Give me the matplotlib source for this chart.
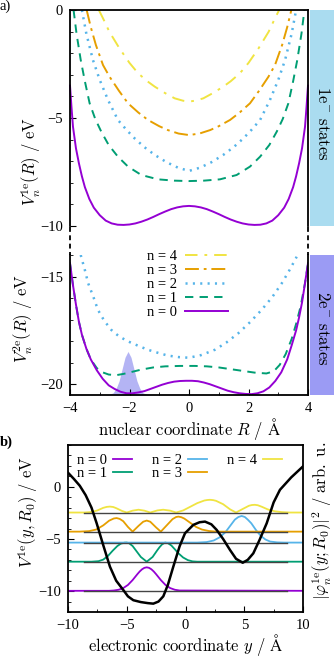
import matplotlib
matplotlib.use('Agg')
import matplotlib.pyplot as plt
from matplotlib.lines import Line2D
from matplotlib.patches import Rectangle
import numpy as np

plt.rcParams['font.family'] = ['Liberation Serif', 'DejaVu Serif']
plt.rcParams['mathtext.fontset'] = 'cm'
plt.rcParams['lines.scale_dashes'] = False
plt.rcParams['axes.linewidth'] = 1.3

W, H = 334, 659

# ---- panel a, one-electron states ----
R_1e = [-4.0, -3.95, -3.9, -3.8, -3.7, -3.6, -3.5, -3.35, -3.2, -3.0, -2.8, -2.6, -2.4,
        -2.2, -2.0, -1.8, -1.6, -1.4, -1.2, -1.0, -0.8, -0.6, -0.4, -0.2, 0.0,
        0.2, 0.4, 0.6, 0.8, 1.0, 1.2, 1.4, 1.6, 1.8, 2.0, 2.2, 2.4, 2.6, 2.8, 3.0,
        3.2, 3.35, 3.5, 3.6, 3.7, 3.8, 3.9, 3.95, 4.0]
V1e_n0 = [-3.5, -4.5, -5.4, -6.4, -7.1, -7.7, -8.2, -8.75, -9.15, -9.5, -9.75, -9.88, -9.94,
          -9.95, -9.93, -9.88, -9.8, -9.7, -9.58, -9.45, -9.33, -9.22, -9.14, -9.09, -9.07,
          -9.09, -9.14, -9.22, -9.33, -9.45, -9.58, -9.7, -9.8, -9.88, -9.93, -9.95, -9.94,
          -9.88, -9.75, -9.5, -9.15, -8.75, -8.2, -7.7, -7.1, -6.4, -5.4, -4.5, -3.5]

R_1e_n1 = [-3.88, -3.78, -3.64, -3.5, -3.34, -3.15, -2.95, -2.7, -2.39, -2.05, -1.6, -1.04,
           -0.5, 0.0, 0.5, 1.04, 1.6, 2.05, 2.39, 2.7, 2.95, 3.15, 3.34, 3.5, 3.64, 3.78, 3.88]
V1e_n1 = [0.0, -1.1, -2.31, -3.3, -4.32, -5.05, -5.63, -6.25, -6.79, -7.25, -7.64, -7.84,
          -7.9, -7.92, -7.9, -7.84, -7.64, -7.25, -6.79, -6.25, -5.63, -5.05, -4.32, -3.3,
          -2.31, -1.1, 0.0]

R_1e_n2 = [-3.6, -3.45, -3.23, -3.0, -2.72, -2.39, -2.1, -1.83, -1.5, -1.15, -0.75, -0.37, 0.0,
           0.37, 0.75, 1.15, 1.5, 1.83, 2.1, 2.39, 2.72, 3.0, 3.23, 3.45, 3.6]
V1e_n2 = [0.0, -1.1, -2.31, -3.24, -4.17, -5.09, -5.55, -5.94, -6.35, -6.71, -7.05, -7.3, -7.45,
          -7.3, -7.05, -6.71, -6.35, -5.94, -5.55, -5.09, -4.17, -3.24, -2.31, -1.1, 0.0]

R_1e_n3 = [-3.44, -3.3, -3.13, -2.89, -2.67, -2.35, -2.05, -1.7, -1.38, -1.0, -0.71, -0.35, 0.0,
           0.35, 0.71, 1.0, 1.38, 1.7, 2.05, 2.35, 2.67, 2.89, 3.13, 3.3, 3.44]
V1e_n3 = [0.0, -0.8, -1.62, -2.55, -3.09, -3.75, -4.32, -4.75, -5.09, -5.38, -5.56, -5.72, -5.79,
          -5.72, -5.56, -5.38, -5.09, -4.75, -4.32, -3.75, -3.09, -2.55, -1.62, -0.8, 0.0]

R_1e_n4 = [-3.03, -2.85, -2.68, -2.34, -2.0, -1.71, -1.4, -1.15, -0.8, -0.48, -0.2, 0.0,
           0.2, 0.48, 0.8, 1.15, 1.4, 1.71, 2.0, 2.34, 2.68, 2.85, 3.03]
V1e_n4 = [0.0, -0.5, -1.0, -1.77, -2.45, -2.93, -3.3, -3.55, -3.85, -4.09, -4.2, -4.24,
          -4.2, -4.09, -3.85, -3.55, -3.3, -2.93, -2.45, -1.77, -1.0, -0.5, 0.0]

# ---- panel a, two-electron states ----
R_2e = [-4.0, -3.9, -3.8, -3.7, -3.6, -3.45, -3.3, -3.1, -2.9, -2.7, -2.5, -2.3, -2.1, -1.9,
        -1.7, -1.5, -1.3, -1.1, -0.9, -0.7, -0.5, -0.3, -0.1, 0.1, 0.3, 0.5, 0.7, 0.9,
        1.1, 1.3, 1.5, 1.7, 1.9, 2.1, 2.3, 2.5, 2.7, 2.9, 3.1, 3.3, 3.45, 3.6, 3.7,
        3.8, 3.9, 4.0]
V2e_n0 = [-14.38, -15.4, -16.3, -17.1, -17.7, -18.35, -18.85, -19.35, -19.75, -20.05, -20.22,
          -20.35, -20.42, -20.42, -20.38, -20.32, -20.22, -20.12, -20.02, -19.94, -19.88,
          -19.85, -19.84, -19.84, -19.86, -19.92, -20.0, -20.1, -20.2, -20.3, -20.37, -20.42,
          -20.45, -20.46, -20.42, -20.33, -20.15, -19.85, -19.45, -18.85, -18.2, -17.5, -16.9,
          -16.2, -15.3, -14.38]

R_2e_n1 = [-4.0, -3.9, -3.8, -3.7, -3.6, -3.45, -3.3, -3.1, -2.9, -2.7, -2.45, -2.2, -1.9,
           -1.6, -1.2, -0.8, -0.3, 0.2, 0.6, 1.0, 1.4, 1.8, 2.2, 2.6, 2.85, 3.05, 3.25,
           3.45, 3.6, 3.75, 3.9, 4.0]
V2e_n1 = [-14.4, -15.4, -16.3, -17.1, -17.7, -18.35, -18.85, -19.25, -19.45, -19.55, -19.58,
          -19.52, -19.42, -19.32, -19.22, -19.17, -19.15, -19.15, -19.17, -19.22, -19.3,
          -19.38, -19.46, -19.5, -19.4, -19.1, -18.6, -17.9, -17.2, -16.4, -15.3, -14.4]

R_2e_n2 = [-3.64, -3.5, -3.39, -3.2, -3.06, -2.85, -2.61, -2.35, -2.05, -1.7, -1.38, -1.0,
           -0.71, -0.35, 0.0, 0.4, 0.87, 1.25, 1.66, 2.05, 2.44, 2.8, 3.12, 3.4, 3.62]
V2e_n2 = [-14.0, -14.7, -15.31, -16.0, -16.55, -17.05, -17.48, -17.78, -18.01, -18.22, -18.4,
          -18.56, -18.67, -18.74, -18.77, -18.65, -18.4, -18.07, -17.63, -17.12, -16.55,
          -15.95, -15.31, -14.65, -14.08]

# nuclear wave packet (shaded)
R_wp = [-2.9, -2.7, -2.55, -2.45, -2.35, -2.25, -2.15, -2.05, -1.95, -1.85,
        -1.75, -1.65, -1.55, -1.4, -1.2]
V_wp = [-20.5, -20.48, -20.4, -20.2, -19.85, -19.3, -18.75, -18.48, -18.75, -19.3,
        -19.85, -20.2, -20.4, -20.48, -20.5]

# ---- panel b ----
y_pot = [-10, -9.5, -9.0, -8.5, -8.0, -7.56, -7.0, -6.43, -5.9, -5.29, -4.9, -4.44,
         -3.8, -3.2, -2.74, -2.3, -1.89, -1.5, -1.04, -0.5, -0.04, 0.67, 1.2, 1.66,
         2.2, 2.65, 3.2, 3.79, 4.3, 4.87, 5.3, 5.77, 6.3, 6.91, 7.5, 8.04, 9.0, 10]
V_pot = [1.35, 0.75, 0.1, -0.8, -2.0, -3.5, -5.6, -7.66, -9.0, -9.9, -10.5, -10.87,
         -11.05, -11.15, -11.2, -11.0, -10.5, -9.4, -7.66, -5.7, -4.45, -3.65, -3.4, -3.34,
         -3.6, -4.13, -5.0, -6.06, -6.9, -7.28, -7.0, -6.38, -5.1, -3.5, -1.5, -0.29, 0.9, 1.95]

levels = [-9.97, -7.18, -5.35, -4.3, -2.47]

y_d0 = [-10, -6.5, -6.1, -5.7, -5.3, -4.9, -4.5, -4.3, -4.1, -3.9, -3.7, -3.5, -3.3,
        -3.1, -2.9, -2.7, -2.5, -2.3, -2.1, -1.7, -1.3, -0.9, -0.5, 10]
d0 = [0, 0, 0.03, 0.1, 0.26, 0.56, 1.03, 1.31, 1.59, 1.85, 2.06, 2.2, 2.25,
      2.2, 2.06, 1.85, 1.59, 1.31, 1.03, 0.56, 0.26, 0.1, 0.03, 0]

y_d1 = [-10, -8.0, -7.4, -7.0, -6.6, -6.2, -5.8, -5.5, -5.2, -5.0, -4.8, -4.5, -4.2, -3.8,
        -3.3, -2.8, -2.4, -2.2, -2.0, -1.74, -1.5, -1.2, -0.9, -0.6, -0.2, 0.2, 0.6, 1.0, 10]
d1 = [0, 0, 0.05, 0.2, 0.55, 1.05, 1.5, 1.73, 1.82, 1.83, 1.77, 1.5, 1.05, 0.45,
      0.0, 0.45, 1.1, 1.4, 1.65, 1.83, 1.78, 1.55, 1.18, 0.8, 0.4, 0.15, 0.03, 0, 0]

y_d2 = [-10, 1.0, 1.8, 2.4, 2.9, 3.4, 3.8, 4.2, 4.5, 4.78, 5.05, 5.3, 5.6, 6.0, 6.4, 6.8,
        7.2, 7.8, 8.4, 10]
d2 = [0, 0, 0.05, 0.2, 0.5, 1.0, 1.6, 2.2, 2.45, 2.55, 2.45, 2.2, 1.85, 1.2, 0.65, 0.3,
      0.1, 0.02, 0, 0]

y_d3 = [-10, -9.0, -8.2, -7.6, -7.0, -6.5, -6.1, -5.86, -5.6, -5.3, -4.9, -4.5, -4.0,
        -3.6, -3.3, -3.0, -2.5, -2.1, -1.6, -1.1, -0.8, -0.6, -0.35, -0.1, 0.4, 0.9,
        1.4, 2.0, 2.6, 10]
d3 = [0, 0, 0.05, 0.2, 0.6, 1.05, 1.26, 1.3, 1.22, 1.0, 0.45, 0.0, 0.55,
      0.95, 1.06, 0.95, 0.4, 0.0, 0.6, 1.2, 1.4, 1.44, 1.38, 1.25, 0.85, 0.45,
      0.2, 0.06, 0, 0]

y_d4 = [-10, -8.6, -8.0, -7.5, -7.0, -6.7, -6.43, -6.15, -5.9, -5.4, -5.0, -4.5, -4.0, -3.5,
        -3.0, -2.4, -1.9, -1.3, -0.8, -0.2, 0.4, 1.0, 1.6, 1.85, 2.08, 2.35, 2.6, 3.2, 3.8,
        4.3, 4.8, 5.4, 5.65, 5.9, 6.15, 6.5, 7.0, 7.6, 8.2, 8.9, 10]
d4 = [0, 0, 0.05, 0.2, 0.45, 0.54, 0.57, 0.53, 0.42, 0.15, 0, 0.18, 0.27, 0.18,
      0, 0.2, 0.27, 0.18, 0, 0.2, 0.55, 0.9, 1.15, 1.2, 1.22, 1.19, 1.12, 0.8, 0.3,
      0, 0.3, 0.65, 0.72, 0.74, 0.7, 0.55, 0.3, 0.12, 0.04, 0, 0]

labels = ['n = 0', 'n = 1', 'n = 2', 'n = 3', 'n = 4']
colors = ['#9400d3', '#009e73', '#56b4e9', '#e69f00', '#f0e442']
styles = ['-', (0, (6, 4.5)), (0, (1.5, 3.8)), (0, (10, 3.5, 2, 3.5)), (0, (9, 5, 2, 5))]


def fx(px):
    return px / W


def fy(py):
    return 1 - py / H


fig = plt.figure(figsize=(W / 100, H / 100), dpi=100)

ax1 = fig.add_axes([fx(70), fy(226), fx(238), 216 / H])
ax2 = fig.add_axes([fx(70), fy(395), fx(238), 140 / H])
ax3 = fig.add_axes([fx(68), fy(612), fx(235), 167 / H])

# top panel
ax1.plot(R_1e_n4, V1e_n4, color=colors[4], ls=styles[4], lw=1.4)
ax1.plot(R_1e_n3, V1e_n3, color=colors[3], ls=styles[3], lw=1.4)
ax1.plot(R_1e_n2, V1e_n2, color=colors[2], ls=styles[2], lw=1.8)
ax1.plot(R_1e_n1, V1e_n1, color=colors[1], ls=styles[1], lw=1.4)
ax1.plot(R_1e, V1e_n0, color=colors[0], ls=styles[0], lw=1.4, clip_on=False)
ax1.set_xlim(-4, 4)
ax1.set_ylim(-10, 0)
ax1.spines['bottom'].set_visible(False)
ax1.set_xticks([])
ax1.set_yticks([0, -5, -10])
ax1.set_yticks(np.arange(-10, 1, 1), minor=True)
ax1.tick_params(axis='y', which='both', direction='in', labelsize=10.5, pad=5)
ax1.tick_params(axis='y', which='major', length=4)
ax1.tick_params(axis='y', which='minor', length=2.5)
ax1.set_ylabel(r'$V_n^{\mathrm{1e}}(R)\ /\ \mathrm{eV}$', fontsize=12)
ax1.yaxis.set_label_coords(-0.115, 0.3)

# bottom panel (2e)
ax2.fill_between(R_wp, V_wp, -20.5, color='#b4b4f4', lw=0)
h2 = []
h2.append(ax2.plot([], [], color=colors[4], ls=styles[4], lw=1.4, label=labels[4])[0])
h2.append(ax2.plot([], [], color=colors[3], ls=styles[3], lw=1.4, label=labels[3])[0])
h2.append(ax2.plot(R_2e_n2, V2e_n2, color=colors[2], ls=styles[2], lw=1.8, label=labels[2])[0])
h2.append(ax2.plot(R_2e_n1, V2e_n1, color=colors[1], ls=styles[1], lw=1.4, label=labels[1])[0])
h2.append(ax2.plot(R_2e, V2e_n0, color=colors[0], ls=styles[0], lw=1.4, label=labels[0])[0])
ax2.set_xlim(-4, 4)
ax2.set_ylim(-20.5, -14)
ax2.spines['top'].set_visible(False)
ax2.set_xticks([-4, -2, 0, 2, 4])
ax2.set_xticks(np.arange(-4, 5, 1), minor=True)
ax2.set_yticks([-15, -20])
ax2.set_yticks(np.arange(-20, -13, 1), minor=True)
ax2.tick_params(which='both', direction='in', labelsize=10.5, pad=5)
ax2.tick_params(which='major', length=4)
ax2.tick_params(which='minor', length=2.5)
ax2.set_ylabel(r'$V_n^{\mathrm{2e}}(R)\ /\ \mathrm{eV}$', fontsize=12)
ax2.yaxis.set_label_coords(-0.145, 0.55)
ax2.set_xlabel(r'$\mathrm{nuclear\ coordinate}\ R\ /\ \mathrm{\AA}$', fontsize=12, labelpad=1)
ax2.legend(handles=h2, loc='upper left', bbox_to_anchor=(fx(140), fy(243)),
           bbox_transform=fig.transFigure, frameon=False, markerfirst=False,
           fontsize=10.5, handlelength=3.0, labelspacing=0.05, borderpad=0,
           handletextpad=0.5)

# side bars
fig.add_artist(Rectangle((fx(310), fy(226)), fx(24), 216 / H, transform=fig.transFigure,
                         color='#aadcf0', lw=0))
fig.add_artist(Rectangle((fx(310), fy(395)), fx(24), 140 / H, transform=fig.transFigure,
                         color='#9b9bf4', lw=0))
fig.text(fx(322), fy(123), r'$\mathrm{1e^{-}\ states}$', rotation=-90,
         ha='center', va='center', fontsize=12)
fig.text(fx(322), fy(328), r'$\mathrm{2e^{-}\ states}$', rotation=-90,
         ha='center', va='center', fontsize=12)

# broken-axis dashes
for xp in (70, 308):
    fig.add_artist(Line2D([fx(xp), fx(xp)], [fy(227), fy(255)], transform=fig.transFigure,
                          color='k', lw=1.3, ls=(0, (3.5, 2.5))))

# panel b
dens = [(y_d0, d0), (y_d1, d1), (y_d2, d2), (y_d3, d3), (y_d4, d4)]
hb = []
for i, (yy, dd) in enumerate(dens):
    ln, = ax3.plot(yy, np.array(dd) + levels[i], color=colors[i], lw=1.3, label=labels[i])
    hb.append(ln)
    ax3.plot([-8.6, 8.6], [levels[i], levels[i]], color='#444444', lw=1.0, zorder=3)
ax3.plot(y_pot, V_pot, color='k', lw=1.8, zorder=4)
ax3.set_xlim(-10, 10)
ax3.set_ylim(-12, 4)
ax3.set_xticks([-10, -5, 0, 5, 10])
ax3.set_xticks(np.arange(-10, 10.1, 2.5), minor=True)
ax3.set_yticks([0, -5, -10])
ax3.set_yticks(np.arange(-12, 5, 1), minor=True)
ax3.tick_params(which='both', direction='in', labelsize=10.5, pad=5)
ax3.tick_params(which='major', length=4)
ax3.tick_params(which='minor', length=2.5)
ax3.set_ylabel(r'$V^{\mathrm{1e}}(y,R_0)\ /\ \mathrm{eV}$', fontsize=12)
ax3.yaxis.set_label_coords(-0.12, 0.6)
ax3.set_xlabel(r'$\mathrm{electronic\ coordinate}\ y\ /\ \mathrm{\AA}$', fontsize=12, labelpad=0)
ax3.legend(handles=hb, loc='upper left', ncol=3, frameon=False, fontsize=10.5,
           handlelength=1.3, handletextpad=0.4, columnspacing=1.4, labelspacing=0.0,
           borderpad=0.2, borderaxespad=0.4, markerfirst=False)
fig.text(fx(322), fy(521), r'$|\varphi_n^{\mathrm{1e}}(y;R_0)|^2\ /\ \mathrm{arb.\ u.}$',
         rotation=90, ha='center', va='center', fontsize=12)

fig.text(0.0, fy(6), 'a)', ha='left', va='center', fontsize=10.5)
fig.text(0.0, fy(442), 'b)', ha='left', va='center', fontsize=10.5, fontweight='bold')

fig.savefig('out.png', dpi=100)
